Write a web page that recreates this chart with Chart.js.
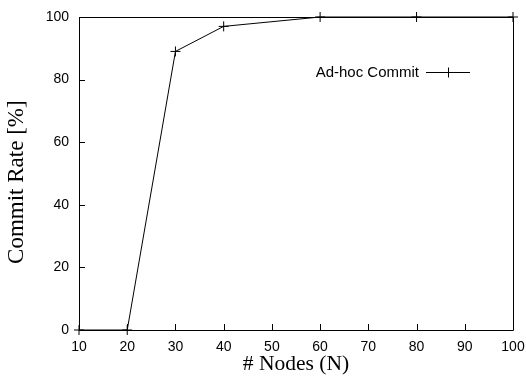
<!DOCTYPE html>
<html>
<head>
<meta charset="utf-8">
<script src="https://cdn.jsdelivr.net/npm/chart.js@4/dist/chart.umd.min.js"></script>
<style>
  html, body { margin: 0; padding: 0; background: #fff; }
  #wrap { width: 526px; height: 376px; }
</style>
</head>
<body>
<div id="wrap"><canvas id="c" width="526" height="376"></canvas></div>
<script>
// Data
const nodes = [10, 20, 30, 40, 60, 80, 100];
const commitRate = [0, 0, 89, 97, 100, 100, 100];
const seriesLabel = 'Ad-hoc Commit';
const xTicks = [10, 20, 30, 40, 50, 60, 70, 80, 90, 100];
const yTicks = [0, 20, 40, 60, 80, 100];
const xTitle = '# Nodes (N)';
const yTitle = 'Commit Rate [%]';

const points = nodes.map((n, i) => ({ x: n, y: commitRate[i] }));

const framePlugin = {
  id: 'frame',
  afterDatasetsDraw(chart) {
    const ctx = chart.ctx;
    const a = chart.chartArea;
    const xs = chart.scales.x, ys = chart.scales.y;
    ctx.save();
    ctx.strokeStyle = '#000';
    ctx.lineWidth = 1;
    ctx.beginPath();
    ctx.rect(Math.round(a.left) + 0.5, Math.round(a.top) + 0.5,
             Math.round(a.right) - Math.round(a.left), Math.round(a.bottom) - Math.round(a.top));
    ctx.stroke();
    ctx.beginPath();
    xTicks.forEach(v => {
      const px = Math.round(xs.getPixelForValue(v)) + 0.5;
      ctx.moveTo(px, a.bottom);
      ctx.lineTo(px, a.bottom - 6);
    });
    yTicks.forEach(v => {
      const py = Math.round(ys.getPixelForValue(v)) + 0.5;
      ctx.moveTo(a.left, py);
      ctx.lineTo(a.left + 6, py);
    });
    ctx.stroke();

    // gnuplot-style key: text then line sample with marker
    const ds = chart.data.datasets[0];
    const ky = Math.round(ys.getPixelForValue(82.5)) + 0.5;
    const lineX0 = 426, lineX1 = 470;
    ctx.font = '15px "Liberation Sans", Arial, sans-serif';
    ctx.fillStyle = '#000';
    ctx.textAlign = 'right';
    ctx.textBaseline = 'middle';
    ctx.fillText(ds.label, lineX0 - 7, ky);
    ctx.beginPath();
    ctx.moveTo(lineX0, ky);
    ctx.lineTo(lineX1, ky);
    const cx = Math.round((lineX0 + lineX1) / 2) + 0.5;
    ctx.moveTo(cx, ky - 5);
    ctx.lineTo(cx, ky + 5);
    ctx.stroke();
    ctx.restore();
  }
};

new Chart(document.getElementById('c'), {
  type: 'scatter',
  data: {
    datasets: [{
      label: seriesLabel,
      data: points,
      showLine: true,
      borderColor: '#000',
      backgroundColor: '#000',
      borderWidth: 1,
      pointStyle: 'cross',
      pointRadius: 5,
      pointHoverRadius: 5,
      pointBorderWidth: 1,
      tension: 0,
      clip: false
    }]
  },
  options: {
    responsive: false,
    animation: false,
    devicePixelRatio: 1,
    layout: { padding: { left: 0, right: 13, top: 17, bottom: 0 } },
    plugins: {
      legend: { display: false },
      tooltip: { enabled: false }
    },
    scales: {
      x: {
        type: 'linear',
        min: 10, max: 100,
        afterBuildTicks(scale) { scale.ticks = xTicks.map(v => ({ value: v })); },
        afterFit(scale) { scale.height = 46; scale.paddingLeft = 0; scale.paddingRight = 0; },
        grid: { display: false, drawTicks: false, tickLength: 0 },
        border: { display: false },
        ticks: {
          color: '#000',
          padding: 9,
          maxRotation: 0,
          autoSkip: false,
          font: { family: '"Liberation Sans", Arial, sans-serif', size: 14 }
        },
        title: {
          display: true,
          text: xTitle,
          color: '#000',
          padding: { top: 0, bottom: 0 },
          font: { family: '"Liberation Serif", "Times New Roman", serif', size: 21.5, lineHeight: 1.1 }
        }
      },
      y: {
        type: 'linear',
        min: 0, max: 100,
        afterBuildTicks(scale) { scale.ticks = yTicks.map(v => ({ value: v })); },
        afterFit(scale) { scale.width = 79; scale.paddingTop = 0; scale.paddingBottom = 0; },
        grid: { display: false, drawTicks: false, tickLength: 0 },
        border: { display: false },
        ticks: {
          color: '#000',
          padding: 10,
          autoSkip: false,
          font: { family: '"Liberation Sans", Arial, sans-serif', size: 14 }
        },
        title: {
          display: true,
          text: yTitle + '   ',
          color: '#000',
          padding: { top: 3, bottom: 0 },
          font: { family: '"Liberation Serif", "Times New Roman", serif', size: 23, lineHeight: 1.2 }
        }
      }
    }
  },
  plugins: [framePlugin]
});
</script>
</body>
</html>
